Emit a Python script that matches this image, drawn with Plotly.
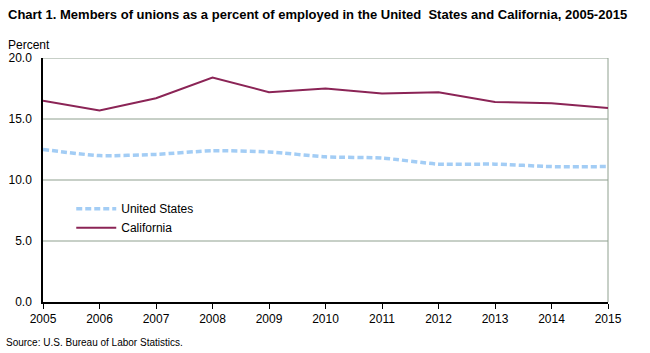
import plotly.graph_objects as go

years = [2005, 2006, 2007, 2008, 2009, 2010, 2011, 2012, 2013, 2014, 2015]
us = [12.5, 12.0, 12.1, 12.4, 12.3, 11.9, 11.8, 11.3, 11.3, 11.1, 11.1]
ca = [16.5, 15.7, 16.7, 18.4, 17.2, 17.5, 17.1, 17.2, 16.4, 16.3, 15.9]
yticks = [0, 5, 10, 15, 20]

fig = go.Figure()
fig.add_trace(go.Scatter(x=years, y=us, mode="lines", name="United States",
                         line=dict(color="#a3cdf5", width=3.5, dash="6px,3px", shape="spline", smoothing=0.6)))
fig.add_trace(go.Scatter(x=years, y=ca, mode="lines", name="California",
                         line=dict(color="#8b2456", width=2)))

for v in yticks[1:]:
    fig.add_shape(type="line", xref="paper", yref="y", x0=0, x1=1, y0=v, y1=v,
                  line=dict(color="#8fa08f", width=1), layer="below")
fig.add_shape(type="line", xref="paper", yref="paper", x0=1, x1=1, y0=0, y1=1,
              line=dict(color="#8fa08f", width=1), layer="below")

fig.update_layout(
    width=650, height=353,
    margin=dict(l=43, r=42, t=58, b=51),
    paper_bgcolor="white", plot_bgcolor="white",
    font=dict(family="Arial, Liberation Sans, sans-serif", size=12, color="#000"),
    showlegend=True,
    legend=dict(x=0.05, y=0.442, xanchor="left", yanchor="top", bgcolor="rgba(0,0,0,0)",
                font=dict(size=12), tracegroupgap=0, itemwidth=40),
    xaxis=dict(range=[2005, 2015], tickvals=years, ticktext=[str(y) for y in years],
               showgrid=False, showline=True, linecolor="black", linewidth=1.5,
               ticks="outside", ticklen=5, tickcolor="black", zeroline=False,
               tickfont=dict(size=12), automargin=False),
    yaxis=dict(range=[0, 20], tickvals=yticks, ticktext=[f"{v:.1f}" for v in yticks],
               showgrid=False, showline=True, linecolor="black", linewidth=1.5,
               ticks="", zeroline=False, tickfont=dict(size=12), ticklabelstandoff=7,
               automargin=False),
    annotations=[
        dict(text="<b>Chart 1. Members of unions as a percent of employed in the United  States and California, 2005-2015</b>",
             xref="paper", yref="paper", x=-37/565, y=1 + 44/244, xanchor="left", yanchor="middle",
             showarrow=False, font=dict(size=13)),
        dict(text="Percent", xref="paper", yref="paper", x=-37/565, y=1 + 13/244, xanchor="left",
             yanchor="middle", showarrow=False, font=dict(size=12)),
        dict(text="Source: U.S. Bureau of Labor Statistics.", xref="paper", yref="paper",
             x=-39/565, y=-40/244, xanchor="left", yanchor="middle", showarrow=False,
             font=dict(size=10)),
    ],
)

fig.write_html("out.html")
